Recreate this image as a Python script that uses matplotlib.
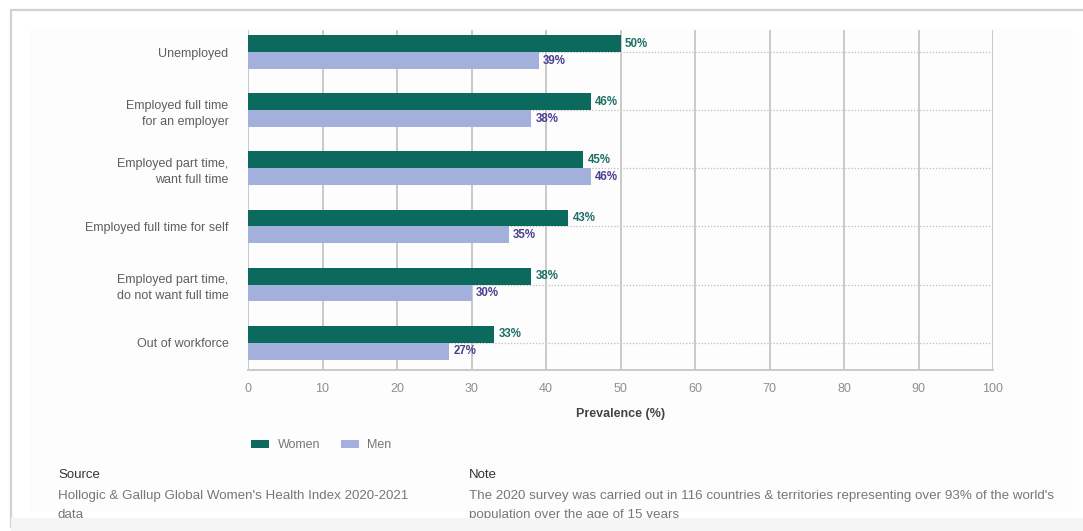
import numpy as np
import matplotlib.pyplot as plt
from matplotlib.patches import Rectangle, Patch

plt.rcParams['font.family'] = ['Liberation Sans', 'DejaVu Sans']

# data
categories = ['Unemployed', 'Employed full time\nfor an employer', 'Employed part time,\nwant full time',
              'Employed full time for self', 'Employed part time,\ndo not want full time', 'Out of workforce']
women = [50, 46, 45, 43, 38, 33]
men = [39, 38, 46, 35, 30, 27]

women_col = '#0b695d'
men_col = '#a3b0dc'

W, H = 1083, 531
fig = plt.figure(figsize=(W / 100, H / 100), dpi=100)
fig.patch.set_facecolor('white')

# screenshot frame
fig.add_artist(Rectangle((11 / W, 1 - 528 / H), 1.2, (528 - 10) / H, transform=fig.transFigure,
                         facecolor='none', edgecolor='#d2d2d2', lw=1.6, zorder=0))
fig.add_artist(Rectangle((30 / W, 1 - 512 / H), (1073 - 30) / W, (512 - 28) / H, transform=fig.transFigure,
                         facecolor='#fefdfd', edgecolor='none', zorder=0))

ax = fig.add_axes([248 / W, 1 - 370 / H, (993 - 248) / W, (370 - 30) / H])
ax.set_facecolor('none')

y = np.arange(len(categories))
h = 0.29
ax.barh(y - h / 2, women, height=h, color=women_col, zorder=3)
ax.barh(y + h / 2, men, height=h, color=men_col, zorder=3)

# dotted guides
for yi in y:
    ax.plot([0, 100], [yi, yi], ls=(0, (1, 1.5)), color='#bdbdbd', lw=0.9, zorder=1)

for yi, w, m in zip(y, women, men):
    ax.text(w + 0.6, yi - h / 2, f'{w}%', va='center', ha='left', fontsize=8.3,
            fontweight='bold', color='#1d6f65', zorder=4)
    ax.text(m + 0.6, yi + h / 2, f'{m}%', va='center', ha='left', fontsize=8.3,
            fontweight='bold', color='#4b3d8f', zorder=4)

ax.set_xlim(0, 100)
ax.set_ylim(5.47, -0.38)
ax.set_xticks(range(0, 101, 10))
ax.grid(axis='x', color='#c9c9c9', lw=1.4, zorder=0)
ax.set_yticks(y)
ax.set_yticklabels(categories, fontsize=9, color='#5e5e5e', linespacing=1.45)
ax.tick_params(axis='y', length=0, pad=14)
ax.tick_params(axis='x', length=0, pad=9, labelsize=9, labelcolor='#8f8f8f')
for s in ['top', 'right', 'left']:
    ax.spines[s].set_visible(False)
ax.spines['bottom'].set_color('#c9c9c9')
ax.spines['bottom'].set_linewidth(1.4)
ax.set_xlabel('Prevalence (%)', fontsize=9, fontweight='bold', color='#444444', labelpad=10)

handles = [Patch(facecolor=women_col, label='Women'), Patch(facecolor=men_col, label='Men')]
fig.legend(handles=handles, loc='center left', bbox_to_anchor=(240 / W, 1 - 445 / H), ncol=2,
           frameon=False, fontsize=9, labelcolor='#777777', handlelength=1.4, handleheight=0.6,
           columnspacing=1.7, handletextpad=0.7)

fig.text(58 / W, 1 - 475 / H, 'Source', fontsize=9.5, color='#333333', va='center')
fig.text(58 / W, 1 - 496 / H, 'Hollogic & Gallup Global Women\'s Health Index 2020-2021', fontsize=9.6,
         color='#777777', va='center')
fig.text(58 / W, 1 - 515 / H, 'data', fontsize=9.6, color='#777777', va='center')
fig.text(469 / W, 1 - 475 / H, 'Note', fontsize=9.5, color='#333333', va='center')
fig.text(469 / W, 1 - 496 / H, 'The 2020 survey was carried out in 116 countries & territories representing '
         'over 93% of the world\'s', fontsize=9.6, color='#777777', va='center')
fig.text(469 / W, 1 - 515 / H, 'population over the age of 15 years', fontsize=9.6, color='#777777', va='center')

# cut-off band at bottom like the screenshot
fig.add_artist(Rectangle((11 / W, 0), 1, 1 - 518 / H, transform=fig.transFigure,
                         facecolor='#f5f5f5', edgecolor='none', zorder=10))

fig.savefig('out.png', dpi=100)
